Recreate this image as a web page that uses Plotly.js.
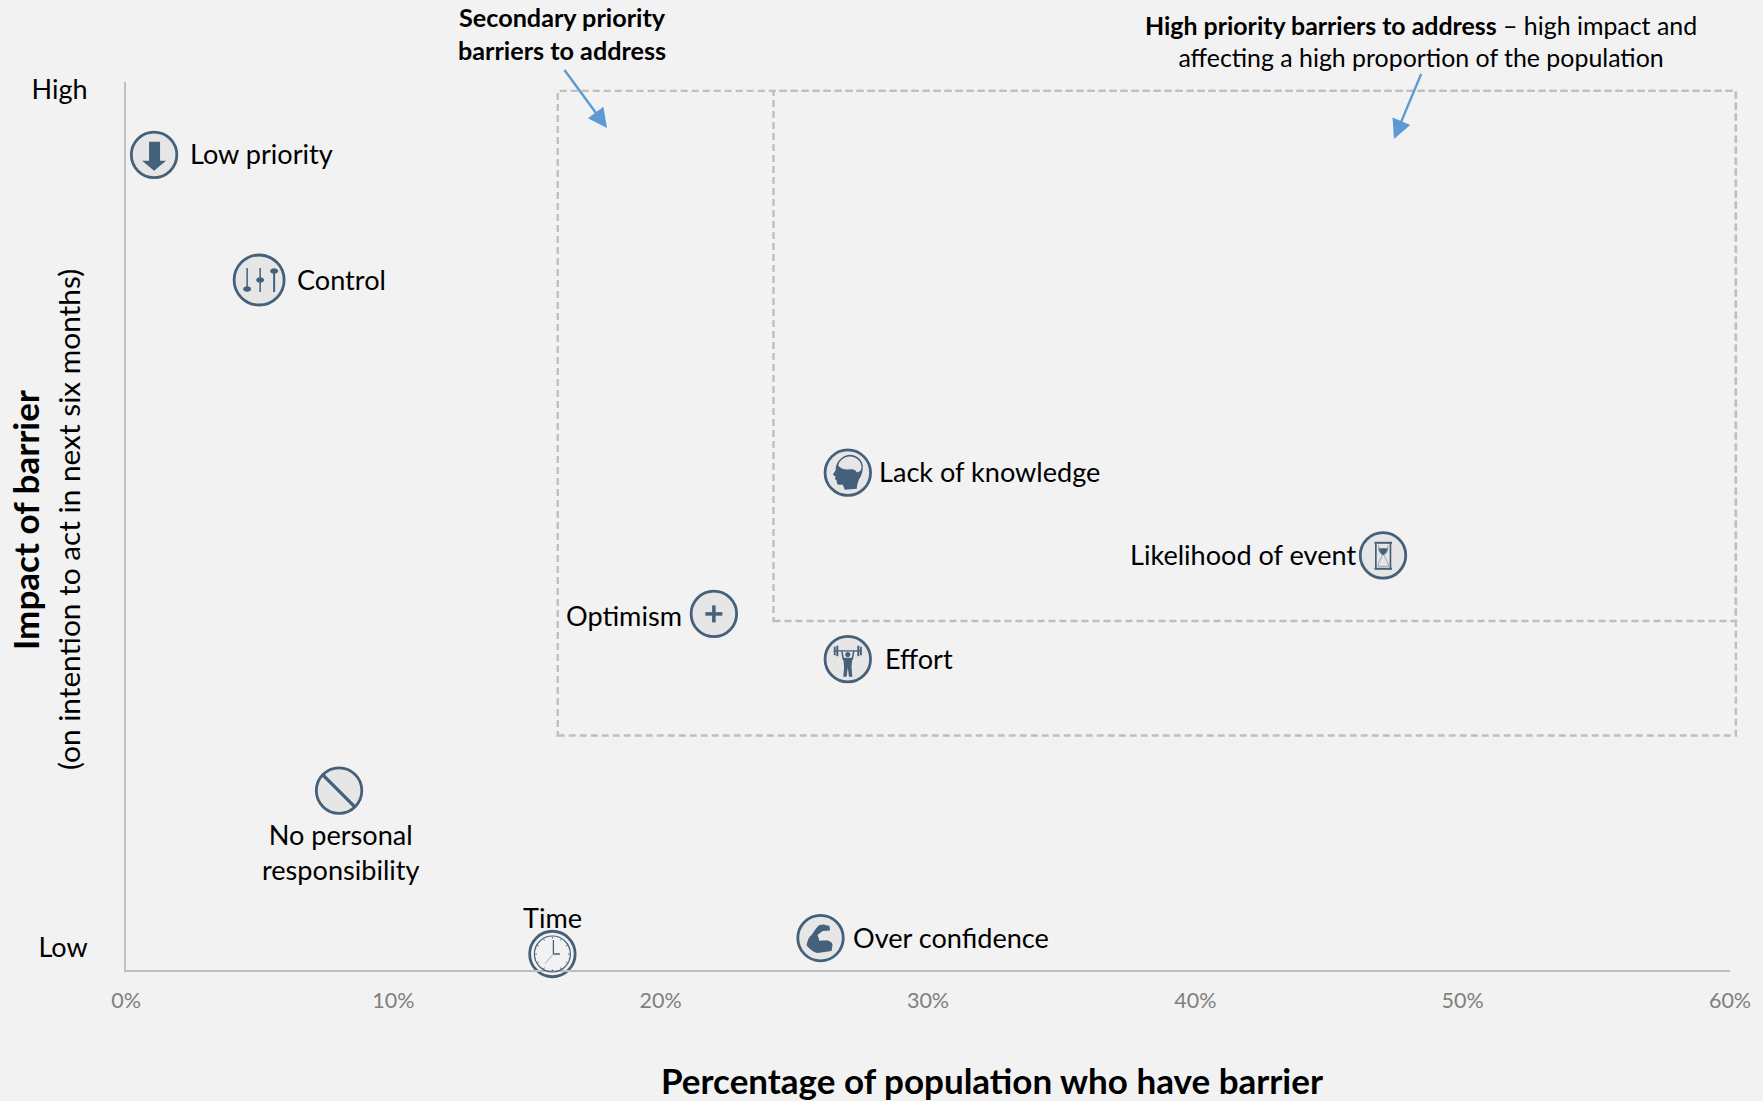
<!DOCTYPE html>
<html>
<head>
<meta charset="utf-8">
<script src="https://cdn.plot.ly/plotly-3.0.1.min.js"></script>
<style>html,body{margin:0;padding:0;background:#F2F2F2}#chart{width:1763px;height:1101px}</style>
</head>
<body>
<div id="chart"></div>
<script>
// ---- data ----
const barrierNames = ['Low priority','Control','Lack of knowledge','Likelihood of event','Optimism','Effort','No personal<br>responsibility','Time','Over confidence'];
const populationPct = [1.05,4.98,27.0,47.02,21.99,27.0,7.97,15.95,25.98];
const impactScore   = [91.8,77.7,56.0,46.7,40.1,35.0,20.2,1.8,3.6];
const xTickVals = [0,10,20,30,40,50,60];
const xTickText = ['0%','10%','20%','30%','40%','50%','60%'];
const yTickVals = [99.1,2.5];
const yTickText = ['High','Low'];
const secondaryBox = {x0:16.15,x1:60.22,y0:26.4,y1:99};
const highBox      = {x0:24.22,x1:60.22,y0:39.3,y1:99};

// ---- styles ----
const BG='#F2F2F2', INK='#44607A', AXIS='#BFBFBF', BLUE='#5B9BD5', FONT='Lato, Carlito, sans-serif';
const LABEL_SIZE=27.1;
const labelShiftX=[34,35.5,29,-25,-29.5,35,2,0,30];
const labelShiftY=[1,1,1,1,-1.4,1,-61,37,0.5];
const labelAnchor=['left','left','left','right','right','left','center','center','left'];
const markerSizes=[45.5,50,45.5,45.5,45.5,45.5,45.5,45.5,45.5];

function ell(cx,cy,rx,ry){const k=.5523,a=rx*k,b=ry*k;
  return `M${cx-rx} ${cy}C${cx-rx} ${cy+b} ${cx-a} ${cy+ry} ${cx} ${cy+ry}C${cx+a} ${cy+ry} ${cx+rx} ${cy+b} ${cx+rx} ${cy}C${cx+rx} ${cy-b} ${cx+a} ${cy-ry} ${cx} ${cy-ry}C${cx-a} ${cy-ry} ${cx-rx} ${cy-b} ${cx-rx} ${cy}Z`;}
function rect(x0,y0,x1,y1){return `M${x0} ${y0}L${x1} ${y0}L${x1} ${y1}L${x0} ${y1}Z`;}
function line(x0,y0,x1,y1){return `M${x0} ${y0}L${x1} ${y1}`;}
const F=(p,fill)=>({p,fill:fill||INK,lw:0});
const S=(p,lw,col)=>({p,lw,col:col||INK});

// icon glyph paths, pixel offsets from each marker centre (y up)
const clockTicks=[];
for(const [a,b,c,d] of [[0,15.5,0,17],[0,-15.5,0,-17],[15.5,0,17,0],[-15.5,0,-17,0],[8,13.6,8.7,14.8],[-8,13.6,-8.7,14.8],[8,-13.6,8.7,-14.8],[-8,-13.6,-8.7,-14.8],[13.6,8,14.8,8.7],[-13.6,8,-14.8,8.7],[13.6,-8,14.8,-8.7],[-13.6,-8,-14.8,-8.7]]) clockTicks.push(S(line(a,b,c,d),1));
const glyphs=[
 [F('M-5 13L6 13L6 -6L12 -6L0 -16L-12 -6L-5 -6Z')],
 [S(line(-12,12,-12,-8),1.5),F(ell(-12,-9,4,2.7)),S(line(1,12,1,-12),1.5),F(ell(1,0,4,2.7)),S(line(15,9,15,-12),2),F(ell(15,9,4,2.7))],
 [F('M9 -16L-3 -17L-5 -12L-9 -12C-11 -12 -11 -9 -11 -8L-13 -6L-12 -4L-15 -2L-12 3C-13 9 -6 18 2 18C9 18 15 13 15 6C15 2 14 -3 11 -7C10 -10 9 -13 9 -16Z'),
  F('M-9.5 7C-9 12 -3 16.5 2 16.2C8 16 13.5 12 13.7 6C13.8 3 12 0.5 9 0.5C8 3 5 3.5 2 3.5C-1 3 -6 3 -9.5 7Z','#E6E6E6')],
 [F(rect(-8.5,11.5,9,13.5)),F(rect(-8.5,-14.5,9,-12.5)),F(rect(-8,-13,-6.3,12)),F(rect(6.6,-13,8.3,12)),
  F('M-4.5 7L5 7C5 3 2 1 0.2 0C-1.6 1 -4.5 3 -4.5 7Z'),
  S('M-4.5 10C-4.5 4 -1.5 2 -0.8 0C-1.5 -3 -5 -7 -5 -11L5.5 -11C5.5 -7 2 -3 1.2 0C2 2 5 4 5 10',.8,'#7F93A6')],
 [S(line(-8.5,0,8.5,0),3.5),S(line(0,-8.5,0,8.5),3.5)],
 [S(line(-14,8.3,14,8.3),1.3),F(rect(-14,4,-12.2,12.5)),F(rect(-11.5,3,-9.5,13.5)),F(rect(12.2,4,14,12.5)),F(rect(9.5,3,11.5,13.5)),
  F(ell(0,4.7,2.6,2.6)),S('M-6 8.3L-4.5 0L-3 -1',1.5),S('M6 8.3L4.5 0L3 -1',1.5),
  F('M-4.5 1.5L4.5 1.5L3.7 -8L4.5 -17.5L1.2 -17.5L0 -8.5L-1.2 -17.5L-4.5 -17.5L-3.7 -8Z')],
 [S(line(-16,15.5,15.5,-16),3.4)],
 [S(ell(0,0,18,18),1.2),...clockTicks,S(line(1,0,1,14),1.3),S(line(1,0,7.5,0),1.5),S(line(1,0,-7.5,-9.5),1,'#9FB0BF')],
 [F('M-1 13L3 13.5L9 12L9.5 7.5L2 7L-3 3L-1 -3C2 -2 5 -3 7 -2.3C10 -3.5 12 -5 12 -7L11 -13L-3 -15C-8 -14 -12 -10 -14 -7C-13 -3 -12 1 -9 3C-6 7 -4 11 -1 13Z')]
];

const shapes=[];
for(const box of [secondaryBox,highBox]){
  shapes.push({type:'rect',xref:'paper',yref:'paper',x0:box.x0/60,x1:box.x1/60,y0:box.y0/100,y1:box.y1/100,
    line:{color:AXIS,width:2.4,dash:'7px,4px'},layer:'below'});
}
glyphs.forEach((g,i)=>g.forEach(o=>{
  shapes.push({type:'path',layer:'above',xref:'paper',yref:'paper',xsizemode:'pixel',ysizemode:'pixel',
    xanchor:populationPct[i]/60,yanchor:impactScore[i]/100,path:o.p,
    fillcolor:o.lw?'rgba(0,0,0,0)':o.fill,line:{width:o.lw,color:o.col||INK}});
}));

const annotations=barrierNames.map((t,i)=>({x:populationPct[i],y:impactScore[i],xref:'x',yref:'y',text:t,showarrow:false,
  xanchor:labelAnchor[i],yanchor:'middle',xshift:labelShiftX[i],yshift:labelShiftY[i],align:'center',
  font:{family:FONT,size:LABEL_SIZE,color:'#000'}}));
const pa=(txt,px,py,size,extra)=>Object.assign({xref:'paper',yref:'paper',x:(px-126)/1604,y:(970-py)/888,text:txt,showarrow:false,
  xanchor:'center',yanchor:'middle',align:'center',font:{family:FONT,size,color:'#000'}},extra||{});
annotations.push(
 pa('<b>Percentage of population who have barrier</b>',992,1080,35),
 pa('<b>Impact of barrier</b>',25,520,35,{textangle:-90}),
 pa('(on intention to act in next six months)',68,520,29.8,{textangle:-90}),
 pa('<b>Secondary priority<br>barriers to address</b>',562,33,25.2),
 pa('<b>High priority barriers to address</b> – high impact and<br>affecting a high proportion of the population',1421,41,24.9)
);
for(const [tx,ty,hx,hy] of [[563,68,607,128],[1422,72,1394,139]]){
  annotations.push({xref:'paper',yref:'paper',axref:'pixel',ayref:'pixel',x:(hx-126)/1604,y:(970-hy)/888,ax:tx-hx,ay:ty-hy,
    text:' ',showarrow:true,arrowhead:2,arrowsize:1.6,arrowwidth:2.4,arrowcolor:BLUE,standoff:0,startstandoff:0,font:{size:1}});
}

const trace={type:'scatter',mode:'markers',x:populationPct,y:impactScore,text:barrierNames,hoverinfo:'text',cliponaxis:false,
  marker:{symbol:'circle',size:markerSizes,opacity:1,color:['#E6E6E6','#E6E6E6','#E6E6E6','#E6E6E6','#E6E6E6','#E6E6E6','#E6E6E6','#F2F2F2','#E6E6E6'],
  line:{color:INK,width:2.8}}};

const layout={
  width:1763,height:1101,paper_bgcolor:BG,plot_bgcolor:BG,showlegend:false,
  margin:{l:126,r:33,t:82,b:131,pad:0},
  font:{family:FONT},
  xaxis:{range:[0,60],tickvals:xTickVals,ticktext:xTickText,showgrid:false,zeroline:false,showline:true,linecolor:AXIS,linewidth:2,
    ticks:'',ticklabelstandoff:10,tickfont:{family:FONT,size:21.5,color:'#7F7F7F'},fixedrange:true},
  yaxis:{range:[0,100],tickvals:yTickVals,ticktext:yTickText,showgrid:false,zeroline:false,showline:true,linecolor:AXIS,linewidth:2,
    ticks:'',ticklabelstandoff:31,tickfont:{family:FONT,size:27,color:'#000'},fixedrange:true},
  shapes,annotations
};
Plotly.newPlot('chart',[trace],layout,{displayModeBar:false,staticPlot:true});
</script>
</body>
</html>
